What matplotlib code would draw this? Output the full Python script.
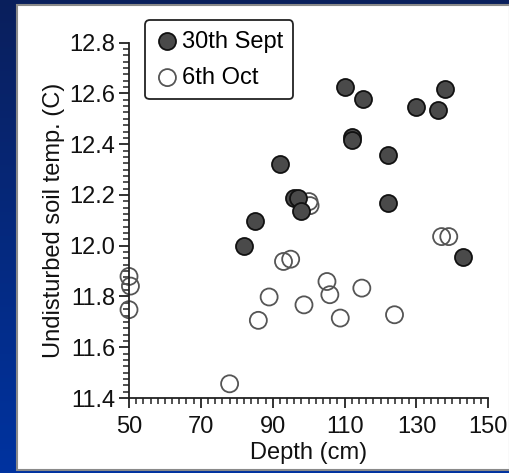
import numpy as np
import matplotlib.pyplot as plt
from matplotlib.patches import Rectangle
from matplotlib.ticker import MultipleLocator

# 30th Sept readings
sept_depth = [110, 115, 130, 136, 138, 112, 112, 122, 92, 96, 97, 98, 122, 85, 82, 143]
sept_temp = [12.624, 12.577, 12.547, 12.536, 12.616, 12.43, 12.417, 12.356, 12.321,
             12.187, 12.187, 12.137, 12.168, 12.097, 11.997, 11.955]

# 6th Oct readings
oct_depth = [50, 50.4, 50, 78, 86, 89, 93, 95, 98.7, 100.1, 100.4, 105.1, 105.9,
             108.8, 114.8, 123.9, 137, 139]
oct_temp = [11.879, 11.841, 11.748, 11.456, 11.706, 11.798, 11.938, 11.947, 11.767,
            12.174, 12.158, 11.859, 11.807, 11.715, 11.833, 11.728, 12.036, 12.036]

plt.rcParams['font.family'] = ['Liberation Sans Narrow', 'Liberation Sans', 'DejaVu Sans']

W, H = 510, 473
fig = plt.figure(figsize=(W / 100, H / 100), dpi=100)

# dark blue slide background with a vertical gradient
bg = fig.add_axes([0, 0, 1, 1])
grad = np.linspace(0, 1, 256).reshape(-1, 1)
bg.imshow(grad, aspect='auto', cmap=plt.matplotlib.colors.LinearSegmentedColormap.from_list(
    'slide', ['#0a1f5c', '#0033a0']), extent=[0, 1, 0, 1], origin='upper')
bg.add_patch(Rectangle((17 / W, 3 / H), 1 - 17 / W, 1 - 8 / H, facecolor='white',
                       edgecolor='#8a8a8a', linewidth=1.5))
bg.set_xlim(0, 1)
bg.set_ylim(0, 1)
bg.axis('off')

ax = fig.add_axes([129 / W, 1 - 398 / H, (488.3 - 129) / W, (398 - 42.7) / H])
ax.patch.set_alpha(0)

ax.scatter(sept_depth, sept_temp, s=150, facecolor='#4a4a4a', edgecolor='#111111',
           linewidth=1.3, label='30th Sept', zorder=3, clip_on=False)
ax.scatter(oct_depth, oct_temp, s=150, facecolor='none', edgecolor='#555555',
           linewidth=1.3, label='6th Oct', zorder=2, clip_on=False)

ax.set_xlim(50, 150)
ax.set_ylim(11.4, 12.8)
ax.set_xticks([50, 70, 90, 110, 130, 150])
ax.set_yticks([11.4, 11.6, 11.8, 12.0, 12.2, 12.4, 12.6, 12.8])
ax.set_yticklabels(['11.4', '11.6', '11.8', '12.0', '12.2', '12.4', '12.6', '12.8'])
ax.xaxis.set_minor_locator(MultipleLocator(2))
ax.yaxis.set_minor_locator(MultipleLocator(0.025))

for s in ['top', 'right']:
    ax.spines[s].set_visible(False)
for s in ['left', 'bottom']:
    ax.spines[s].set_linewidth(1.3)
    ax.spines[s].set_color('#222222')

ax.tick_params(which='major', length=7, width=1.3, labelsize=17, color='#222222',
               labelcolor='#111111', pad=3)
ax.tick_params(axis='x', which='major', pad=6)
ax.tick_params(which='minor', length=4, width=1.1, color='#222222')

ax.set_xlabel('Depth (cm)', fontsize=17, color='#111111', labelpad=3)
ax.set_ylabel('Undisturbed soil temp. (C)', fontsize=17, color='#111111', labelpad=3)

leg = ax.legend(loc='upper left', bbox_to_anchor=(145 / W, 1 - 20 / H),
                bbox_transform=fig.transFigure, borderaxespad=0, fontsize=17,
                handletextpad=0.1, handlelength=1.0, borderpad=0.45, labelspacing=0.6,
                fancybox=True, frameon=True, markerscale=1.0)
leg.get_frame().set_edgecolor('#222222')
leg.get_frame().set_linewidth(1.3)
leg.get_frame().set_alpha(1)

fig.savefig('out.png', dpi=100)
